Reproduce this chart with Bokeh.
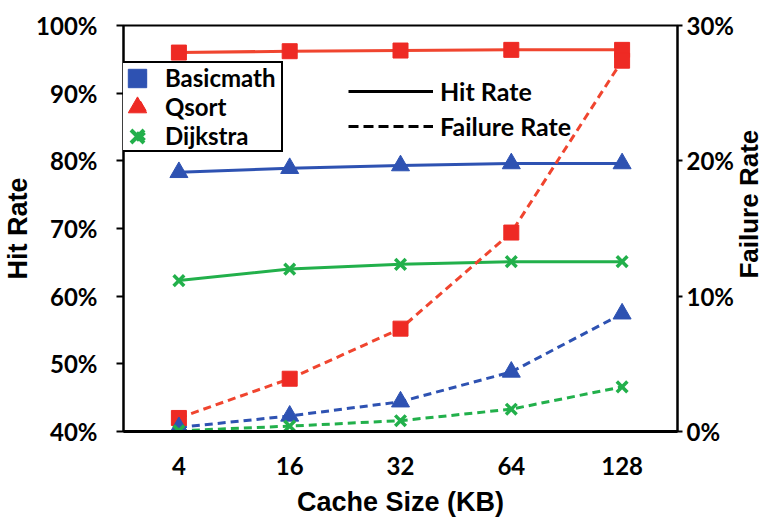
import math
from bokeh.plotting import figure
from bokeh.models import (FactorRange, Range1d, LinearAxis, FixedTicker,
                          NumeralTickFormatter, Legend, LegendItem)
from bokeh.embed import file_html
from bokeh.resources import INLINE

# ---- data ----
cache_sizes = ["4", "16", "32", "64", "128"]
hit_basicmath = [0.783, 0.789, 0.793, 0.796, 0.796]
hit_qsort = [0.960, 0.962, 0.963, 0.964, 0.964]
hit_dijkstra = [0.623, 0.640, 0.647, 0.651, 0.651]
fail_basicmath = [0.003, 0.0115, 0.022, 0.044, 0.087]
fail_qsort = [0.010, 0.039, 0.076, 0.147, 0.274]
fail_dijkstra = [0.0005, 0.004, 0.008, 0.0165, 0.033]
hit_ticks = [0.4, 0.5, 0.6, 0.7, 0.8, 0.9, 1.0]
fail_ticks = [0.0, 0.1, 0.2, 0.3]
series_names = ["Basicmath", "Qsort", "Dijkstra"]
style_names = ["Hit Rate", "Failure Rate"]
right_title = "Failure Rate"

RED = "#EE2A24"
RED_LINE = "#F0452F"
BLUE = "#2E52B2"
GREEN = "#22B04B"
TICK_FONT = "Lato"
TITLE_FONT = "Liberation Sans"
RIGHT_TITLE_START = 0.113   # where the rotated right-hand title starts (failure-rate scale)

p = figure(width=782, height=519,
           x_range=FactorRange(factors=cache_sizes, range_padding=0),
           y_range=Range1d(0.4, 1.0),
           output_backend="svg", toolbar_location=None,
           min_border_left=120, min_border_right=85,
           min_border_top=25, min_border_bottom=87)
p.extra_y_ranges = {"fail": Range1d(0.0, 0.30),
                    "legend_only": Range1d(10.0, 11.0)}
p.xgrid.visible = False
p.ygrid.visible = False
p.outline_line_color = "black"
p.outline_line_width = 2
p.outline_line_alpha = 1
p.background_fill_color = "white"

# ---- hit rate (solid) ----
p.line(cache_sizes, hit_qsort, color=RED_LINE, line_width=3)
p.line(cache_sizes, hit_basicmath, color=BLUE, line_width=3)
p.line(cache_sizes, hit_dijkstra, color=GREEN, line_width=3)

# ---- failure rate (dashed) ----
p.line(cache_sizes, fail_qsort, color=RED_LINE, line_width=3, line_dash="8 5", y_range_name="fail")
p.line(cache_sizes, fail_basicmath, color=BLUE, line_width=3, line_dash="8 5", y_range_name="fail")
p.line(cache_sizes, fail_dijkstra, color=GREEN, line_width=3, line_dash="8 5", y_range_name="fail")

# markers
for ys, yr in ((hit_qsort, "default"), (fail_qsort, "fail")):
    p.scatter(cache_sizes, ys, marker="square", size=15, color=RED, y_range_name=yr)
for ys, yr in ((hit_basicmath, "default"), (fail_basicmath, "fail")):
    p.scatter(cache_sizes, ys, marker="triangle", size=18, color=BLUE, y_range_name=yr)
for ys, yr in ((hit_dijkstra, "default"), (fail_dijkstra, "fail")):
    p.scatter(cache_sizes, ys, marker="x", size=15, line_width=3.5, color=GREEN, y_range_name=yr)

# ---- axes ----
xa = p.xaxis[0]
xa.axis_label = "Cache Size (KB)"
xa.axis_line_width = 3
xa.major_tick_line_color = None
xa.minor_tick_line_color = None
xa.major_label_standoff = 19
xa.major_label_text_font = TICK_FONT
xa.major_label_text_font_style = "bold"
xa.major_label_text_font_size = "24px"
xa.major_label_text_color = "black"
xa.axis_label_standoff = 9
xa.axis_label_text_font = TITLE_FONT
xa.axis_label_text_font_style = "bold"
xa.axis_label_text_font_size = "27px"
xa.axis_label_text_color = "black"

ya = p.yaxis[0]
ya.ticker = FixedTicker(ticks=hit_ticks)
ya.formatter = NumeralTickFormatter(format="0%")
ya.axis_label = "Hit Rate"
ya.axis_line_width = 2
ya.major_tick_out = 7
ya.major_tick_in = 0
ya.major_tick_line_width = 2
ya.minor_tick_line_color = None
ya.major_label_standoff = 19
ya.major_label_text_font = TICK_FONT
ya.major_label_text_font_style = "bold"
ya.major_label_text_font_size = "24px"
ya.major_label_text_color = "black"
ya.axis_label_standoff = 0
ya.axis_label_text_font = TITLE_FONT
ya.axis_label_text_font_style = "bold"
ya.axis_label_text_font_size = "27px"
ya.axis_label_text_color = "black"

ra = LinearAxis(y_range_name="fail", ticker=FixedTicker(ticks=fail_ticks),
                formatter=NumeralTickFormatter(format="0%"))
ra.axis_line_width = 2
ra.major_tick_out = 5
ra.major_tick_in = 0
ra.major_tick_line_width = 2
ra.minor_tick_line_color = None
ra.major_label_standoff = 4
ra.major_label_text_font = TICK_FONT
ra.major_label_text_font_style = "bold"
ra.major_label_text_font_size = "24px"
ra.major_label_text_color = "black"
p.add_layout(ra, "right")

# outer right axis carrying only the title, rotated to read bottom-to-top
rt = LinearAxis(y_range_name="fail", ticker=FixedTicker(ticks=[RIGHT_TITLE_START]),
                major_label_overrides={RIGHT_TITLE_START: right_title},
                major_label_orientation=math.pi / 2)
rt.axis_line_color = None
rt.major_tick_line_color = None
rt.minor_tick_line_color = None
rt.major_tick_out = 0
rt.major_tick_in = 0
rt.major_label_standoff = 12
rt.major_label_text_font = TITLE_FONT
rt.major_label_text_font_style = "bold"
rt.major_label_text_font_size = "26px"
rt.major_label_text_color = "black"
p.add_layout(rt, "right")

# ---- legend-only renderers (drawn on an off-screen range) ----
lg_b = p.scatter(cache_sizes, hit_basicmath, marker="square", size=15, color=BLUE, y_range_name="legend_only")
lg_q = p.scatter(cache_sizes, hit_qsort, marker="triangle", size=15, color=RED, y_range_name="legend_only")
lg_d = p.scatter(cache_sizes, hit_dijkstra, marker="x", size=15, line_width=4, color=GREEN, y_range_name="legend_only")
lg_hit = p.line(cache_sizes, hit_basicmath, color="black", line_width=3, y_range_name="legend_only")
lg_fail = p.line(cache_sizes, fail_basicmath, color="black", line_width=3, line_dash="10 5", y_range_name="legend_only")

# legend 1: box + labels
leg1 = Legend(items=[LegendItem(label=series_names[i], renderers=[r])
                     for i, r in enumerate((lg_b, lg_q, lg_d))],
              location=(-3, 279), orientation="vertical",
              glyph_width=36, glyph_height=28, spacing=0, padding=0,
              label_width=116, label_height=28, label_standoff=7, margin=0,
              border_line_color="black", border_line_width=2, border_line_alpha=1,
              background_fill_color="white", background_fill_alpha=1,
              label_text_font=TICK_FONT, label_text_font_style="bold",
              label_text_font_size="24px", label_text_color="black")
p.add_layout(leg1, "center")

# larger legend symbols drawn over the box rows
for i, r in enumerate((lg_b, lg_q, lg_d)):
    p.add_layout(Legend(items=[LegendItem(label=" ", renderers=[r])],
                        location=(-9, 330 - 29 * i), orientation="vertical",
                        glyph_width=46, glyph_height=46, spacing=0, padding=0,
                        label_width=0, label_height=0, label_standoff=0, margin=0,
                        border_line_alpha=0, background_fill_alpha=0,
                        label_text_font_size="1px"), "center")

# legend 2: line styles
leg2 = Legend(items=[LegendItem(label=style_names[0], renderers=[lg_hit]),
                     LegendItem(label=style_names[1], renderers=[lg_fail])],
              location=(225, 290), orientation="vertical",
              glyph_width=85, glyph_height=30, spacing=5, padding=0,
              label_standoff=7, margin=0,
              border_line_alpha=0, background_fill_alpha=0,
              label_text_font=TICK_FONT, label_text_font_style="bold",
              label_text_font_size="25px", label_text_color="black")
p.add_layout(leg2, "center")

open("out.html", "w").write(file_html(p, INLINE))
